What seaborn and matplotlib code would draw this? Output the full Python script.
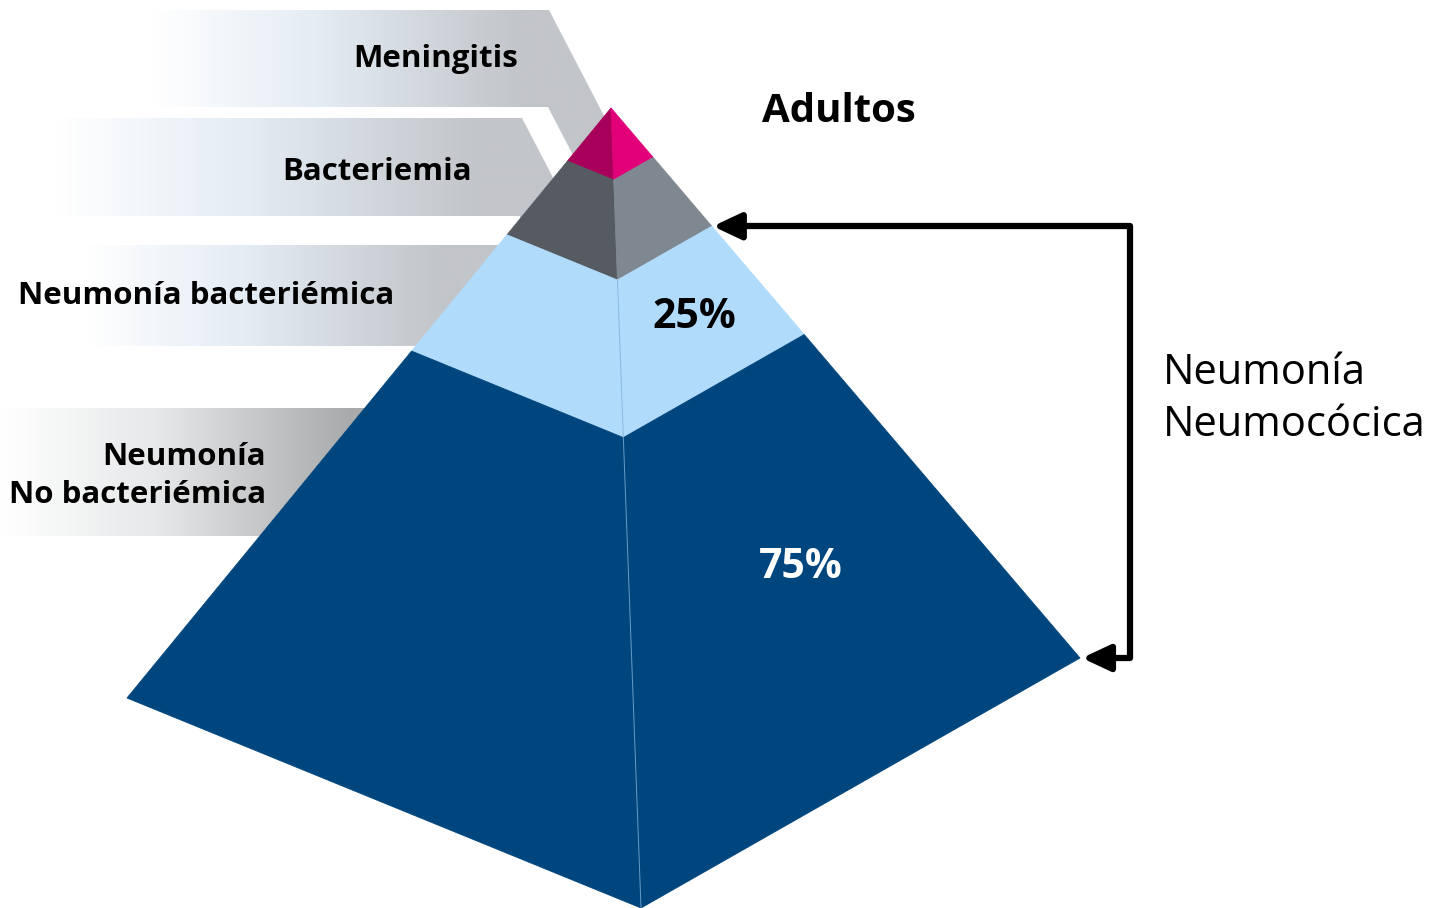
import numpy as np
import matplotlib
matplotlib.use("Agg")
import matplotlib.pyplot as plt
import matplotlib.patches as mpatches
from matplotlib.path import Path
from matplotlib.colors import LinearSegmentedColormap
import seaborn as sns

# ---- data -------------------------------------------------------------
layers = ["Meningitis", "Bacteriemia", "Neumonía bacteriémica", "Neumonía\nNo bacteriémica"]
# cumulative depth of each layer boundary along the pyramid edges (apex = 0, base = 1)
layer_bounds = [0.0, 0.09, 0.215, 0.412, 1.0]
left_face_colors = ["#A8005A", "#555B61", "#B1DBFB", "#00467E"]
right_face_colors = ["#E2007A", "#7F8890", "#B1DBFB", "#00467E"]
pct_labels = ["25%", "75%"]
pct_values = [25, 75]
title = "Adultos"
bracket_label = "Neumonía\nNeumocócica"

sns.set_theme(style="white")
plt.rcParams["font.family"] = ["Open Sans", "DejaVu Sans"]

W, H = 1441, 908
fig = plt.figure(figsize=(W / 100, H / 100), dpi=100)
ax = fig.add_axes([0, 0, 1, 1])
ax.set_xlim(0, W)
ax.set_ylim(H, 0)
ax.axis("off")

# ---- banners with horizontal gradients --------------------------------
blue_grey = LinearSegmentedColormap.from_list(
    "bg", [(0, "#FFFFFF"), (0.45, "#E4ECF4"), (1, "#C2C5C9")])
neutral_grey = LinearSegmentedColormap.from_list(
    "ng", [(0, "#FFFFFF"), (0.45, "#E6E8E9"), (1, "#A9AAAC")])

def banner(verts, x0, x1, cmap):
    poly = mpatches.Polygon(verts, closed=True, facecolor="none", edgecolor="none")
    ax.add_patch(poly)
    xs = np.array([v[0] for v in verts])
    ys = np.array([v[1] for v in verts])
    gx = np.linspace(xs.min(), xs.max(), 600)
    grad = np.clip((gx - x0) / (x1 - x0), 0, 1)[None, :]
    im = ax.imshow(grad, cmap=cmap, vmin=0, vmax=1, aspect="auto",
                   extent=[xs.min(), xs.max(), ys.max(), ys.min()], zorder=1,
                   interpolation="bilinear")
    im.set_clip_path(poly)

s = 0.52  # slope of the slanted leader strips
banner([(150, 10), (549, 10), (549 + s * 160, 170), (548 + s * 63, 170), (548, 107), (150, 107)],
       150, 520, blue_grey)
banner([(55, 118), (522, 118), (522 + s * 110, 228), (520, 228), (520, 216), (55, 216)],
       55, 480, blue_grey)
banner([(85, 245), (520, 245), (520, 346), (85, 346)], 85, 440, blue_grey)
banner([(0, 408), (380, 408), (380, 536), (0, 536)], 0, 350, neutral_grey)

# ---- pyramid ----------------------------------------------------------
apex = np.array([611.0, 108.0])
left = np.array([127.0, 698.0])
front = np.array([641.0, 908.0])
right = np.array([1080.0, 658.0])

def on_edge(p, t):
    return apex + (p - apex) * t

for i in range(len(layers)):
    t0, t1 = layer_bounds[i], layer_bounds[i + 1]
    lf = [on_edge(left, t0), on_edge(left, t1), on_edge(front, t1), on_edge(front, t0)]
    rf = [on_edge(front, t0), on_edge(front, t1), on_edge(right, t1), on_edge(right, t0)]
    ax.add_patch(mpatches.Polygon(lf, closed=True, facecolor=left_face_colors[i],
                                  edgecolor=left_face_colors[i], lw=0.6, zorder=3))
    ax.add_patch(mpatches.Polygon(rf, closed=True, facecolor=right_face_colors[i],
                                  edgecolor=right_face_colors[i], lw=0.6, zorder=3))

# faint central ridge
ridge_a = on_edge(front, layer_bounds[2])
ax.plot([ridge_a[0], front[0]], [ridge_a[1], front[1]], color="#7FB0DA", lw=0.7,
        alpha=0.8, zorder=4)

# ---- labels -----------------------------------------------------------
lab_kw = dict(fontsize=22.5, fontweight="bold", color="black", zorder=5)
ax.text(518, 59, layers[0], ha="right", va="center", **lab_kw)
ax.text(472, 172, layers[1], ha="right", va="center", **lab_kw)
ax.text(18, 296, layers[2], ha="left", va="center", **lab_kw)
ax.text(266, 476, layers[3], ha="right", va="center", multialignment="right",
        linespacing=1.38, **lab_kw)

ax.text(762, 111, title, ha="left", va="center", fontsize=29, fontweight="bold",
        color="black", zorder=5)

ax.text(694, 318, pct_labels[0], ha="center", va="center", fontsize=29.5,
        fontweight="bold", color="black", zorder=5)
ax.text(801, 568, pct_labels[1], ha="center", va="center", fontsize=29.5,
        fontweight="bold", color="white", zorder=5)

ax.text(1163, 399, bracket_label, ha="left", va="center", fontsize=30,
        linespacing=1.33, color="black", zorder=5)

# ---- bracket with arrows ----------------------------------------------
top_tip = on_edge(right, layer_bounds[2])
bot_tip = right
bx = 1130
verts = [(top_tip[0] + 1, top_tip[1]), (bx, top_tip[1]), (bx, bot_tip[1]), (bot_tip[0] + 2, bot_tip[1])]
codes = [Path.MOVETO, Path.LINETO, Path.LINETO, Path.LINETO]
arrow = mpatches.FancyArrowPatch(path=Path(verts, codes),
                                 arrowstyle="<|-|>,head_length=17,head_width=8",
                                 color="black", lw=4.5, joinstyle="round",
                                 capstyle="butt", zorder=6, mutation_scale=1)
ax.add_patch(arrow)

fig.savefig("out.png", dpi=100)
